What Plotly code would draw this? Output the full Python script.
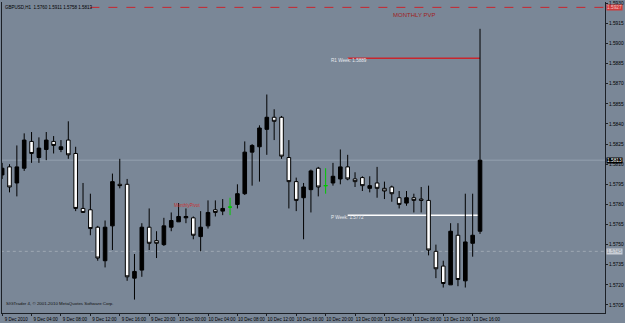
import plotly.graph_objects as go

# ---- data (GBPUSD H1) ----
bar_time = []
for day_label, n_hours in [("9 Dec", 24), ("10 Dec", 24), ("13 Dec", 18)]:
    for h in range(n_hours):
        bar_time.append(f"{day_label} {h:02d}:00")

opens = [1.5802, 1.5808, 1.5796, 1.5807, 1.5827, 1.5815, 1.5821, 1.5827, 1.5821, 1.5828,
         1.5818, 1.5777, 1.5776, 1.5763, 1.5738, 1.5764, 1.5795, 1.5795, 1.5725, 1.5731,
         1.5763, 1.5753, 1.5750, 1.5763, 1.5767, 1.5770, 1.5770, 1.5756, 1.5764, 1.5776,
         1.5775, 1.5778, 1.5780, 1.5788, 1.5819, 1.5823, 1.5836, 1.5845, 1.5845, 1.5815,
         1.5797, 1.5785, 1.5791, 1.5807, 1.5794, 1.5796, 1.5799, 1.5808, 1.5799, 1.5800,
         1.5792, 1.5796, 1.5792, 1.5793, 1.5785, 1.5781, 1.5785, 1.5784, 1.5783, 1.5745,
         1.5734, 1.5720, 1.5757, 1.5723, 1.5751, 1.5760]
highs = [1.5811, 1.5810, 1.5824, 1.5833, 1.5834, 1.5830, 1.5834, 1.5831, 1.5828, 1.5842,
         1.5823, 1.5796, 1.5788, 1.5764, 1.5768, 1.5803, 1.5814, 1.5799, 1.5743, 1.5766,
         1.5777, 1.5760, 1.5770, 1.5774, 1.5781, 1.5777, 1.5771, 1.5775, 1.5783, 1.5783,
         1.5784, 1.5785, 1.5795, 1.5827, 1.5825, 1.5839, 1.5862, 1.5851, 1.5846, 1.5828,
         1.5800, 1.5796, 1.5806, 1.5808, 1.5807, 1.5811, 1.5821, 1.5817, 1.5804, 1.5801,
         1.5801, 1.5808, 1.5797, 1.5794, 1.5790, 1.5790, 1.5788, 1.5793, 1.5794, 1.5750,
         1.5738, 1.5766, 1.5766, 1.5788, 1.5788, 1.5911]
lows = [1.5799, 1.5789, 1.5786, 1.5805, 1.5811, 1.5811, 1.5813, 1.5818, 1.5819, 1.5814,
        1.5775, 1.5774, 1.5757, 1.5738, 1.5733, 1.5746, 1.5792, 1.5723, 1.5709, 1.5726,
        1.5746, 1.5740, 1.5749, 1.5760, 1.5767, 1.5766, 1.5754, 1.5745, 1.5762, 1.5771,
        1.5772, 1.5772, 1.5777, 1.5787, 1.5794, 1.5797, 1.5817, 1.5828, 1.5814, 1.5777,
        1.5775, 1.5754, 1.5774, 1.5786, 1.5788, 1.5794, 1.5795, 1.5798, 1.5793, 1.5790,
        1.5789, 1.5785, 1.5784, 1.5782, 1.5777, 1.5779, 1.5774, 1.5774, 1.5742, 1.5725,
        1.5718, 1.5720, 1.5719, 1.5718, 1.5741, 1.5758]
closes = [1.5807, 1.5793, 1.5808, 1.5828, 1.5818, 1.5822, 1.5828, 1.5824, 1.5823, 1.5817,
          1.5777, 1.5774, 1.5762, 1.5740, 1.5763, 1.5797, 1.5794, 1.5726, 1.5730, 1.5763,
          1.5751, 1.5751, 1.5764, 1.5768, 1.5771, 1.5771, 1.5757, 1.5763, 1.5774, 1.5774,
          1.5777, 1.5778, 1.5788, 1.5819, 1.5824, 1.5837, 1.5845, 1.5842, 1.5816, 1.5797,
          1.5783, 1.5793, 1.5805, 1.5793, 1.5794, 1.5801, 1.5808, 1.5799, 1.5797, 1.5794,
          1.5794, 1.5792, 1.5790, 1.5788, 1.5780, 1.5785, 1.5783, 1.5783, 1.5746, 1.5732,
          1.5721, 1.5760, 1.5724, 1.5752, 1.5757, 1.5813]

# weekly pivot levels drawn on the current day
level_names = ["R1 Week", "P Week"]
level_values = [1.5889, 1.5772]
level_colors = ["#c8262e", "#ffffff"]
level_start_bar = 47

bid_price = 1.5813
hline_price = 1.5745
pvp_price = 1.5927
header = "GBPUSD,H1  1.5760 1.5911 1.5758 1.5813"

y_tick0 = 1.5705
y_dtick = 0.0015

# ---- build ----
idx = list(range(len(bar_time)))
norm = [i for i in idx if opens[i] != closes[i]]
doji = [i for i in idx if opens[i] == closes[i]]

BG = "#7a8797"
AX = "#1c2026"
FONT = "Liberation Sans"

fig = go.Figure()
fig.add_trace(go.Candlestick(
    x=[idx[i] for i in norm],
    open=[opens[i] for i in norm], high=[highs[i] for i in norm],
    low=[lows[i] for i in norm], close=[closes[i] for i in norm],
    increasing=dict(line=dict(color="#000000", width=1), fillcolor="#000000"),
    decreasing=dict(line=dict(color="#000000", width=1), fillcolor="#ffffff"),
    whiskerwidth=0, showlegend=False, hoverinfo="skip"))
fig.add_trace(go.Candlestick(
    x=[idx[i] for i in doji],
    open=[opens[i] for i in doji], high=[highs[i] for i in doji],
    low=[lows[i] for i in doji], close=[closes[i] for i in doji],
    increasing=dict(line=dict(color="#00c800", width=1), fillcolor="#00c800"),
    decreasing=dict(line=dict(color="#00c800", width=1), fillcolor="#00c800"),
    whiskerwidth=0, showlegend=False, hoverinfo="skip"))

x_end = 82.0
shapes = []
# bid line
shapes.append(dict(type="line", xref="x", yref="y", x0=-1, x1=x_end, y0=bid_price, y1=bid_price,
                   line=dict(color="rgba(180,190,204,0.45)", width=1), layer="below"))
# horizontal dashed line
shapes.append(dict(type="line", xref="x", yref="y", x0=-1, x1=x_end, y0=hline_price, y1=hline_price,
                   line=dict(color="rgba(195,200,208,0.5)", width=1, dash="dot"), layer="below"))
# monthly pvp red dashed
shapes.append(dict(type="line", xref="x", yref="y", x0=12, x1=x_end, y0=pvp_price, y1=pvp_price,
                   line=dict(color="#c8262e", width=1, dash="dash"), layer="below"))
for name, val, col in zip(level_names, level_values, level_colors):
    shapes.append(dict(type="line", xref="x", yref="y", x0=level_start_bar, x1=len(bar_time) - 1,
                       y0=val, y1=val, line=dict(color=col, width=1.5), layer="below"))

annotations = []
for name, val, col in zip(level_names, level_values, level_colors):
    annotations.append(dict(x=level_start_bar - 2.5, y=val, xref="x", yref="y", yshift=-2,
                            text=f"{name}: {val:.4f}", showarrow=False, xanchor="left",
                            font=dict(family=FONT, size=4.6, color="#e6e9ee")))
annotations.append(dict(x=56, y=1.5921, xref="x", yref="y", text="MONTHLY PVP", showarrow=False,
                        font=dict(family=FONT, size=6, color="#a01e22")))
annotations.append(dict(x=23.1, y=1.5779, xref="x", yref="y", text="MonthlyPivot", showarrow=False,
                        xanchor="left", font=dict(family=FONT, size=4.5, color="#c83232")))
annotations.append(dict(x=0.002, y=pvp_price, xref="paper", yref="y", text=header, showarrow=False,
                        xanchor="left", font=dict(family=FONT, size=4.5, color="#000000")))
annotations.append(dict(x=0.003, y=0.017, xref="paper", yref="paper",
                        text="SIGTrader 4, \u00a9 2001-2010 MetaQuotes Software Corp.",
                        showarrow=False, xanchor="left",
                        font=dict(family=FONT, size=4.4, color="#111111")))
# price tags on axis
for price, bg, fg in [(bid_price, "#000000", "#ffffff"), (hline_price, "#c9ced6", "#8a929c"),
                      (pvp_price, "#d03a3a", "#f0c8c8")]:
    annotations.append(dict(x=1, y=price, xref="paper", yref="y", xanchor="left", xshift=1,
                            text=f"{price:.4f}", showarrow=False, bgcolor=bg, borderpad=0,
                            font=dict(family=FONT, size=4.8, color=fg)))

tick_vals = [i for i in idx if i % 4 == 0]
tick_text = ["9 Dec 2010" if i == 0 else bar_time[i] for i in tick_vals]

fig.update_layout(
    width=625, height=323,
    margin=dict(l=1, r=18, t=1, b=8),
    paper_bgcolor=BG, plot_bgcolor=BG,
    shapes=shapes, annotations=annotations,
    xaxis=dict(range=[-0.02, x_end], tickvals=tick_vals, ticktext=tick_text,
               showgrid=False, zeroline=False, showline=True, linecolor=AX, linewidth=1,
               ticks="outside", ticklen=2, tickcolor=AX, ticklabelshift=14,
               tickfont=dict(family=FONT, size=4.5, color="#000000"),
               rangeslider=dict(visible=False), fixedrange=True),
    yaxis=dict(range=[1.5699, 1.5931], side="right", tick0=y_tick0, dtick=y_dtick,
               tickformat=".4f", showgrid=False, zeroline=False, showline=True, mirror=True,
               linecolor=AX, linewidth=1, ticks="outside", ticklen=2, tickcolor=AX,
               tickfont=dict(family=FONT, size=4.8, color="#000000"), fixedrange=True),
)

fig.write_html("out.html")
